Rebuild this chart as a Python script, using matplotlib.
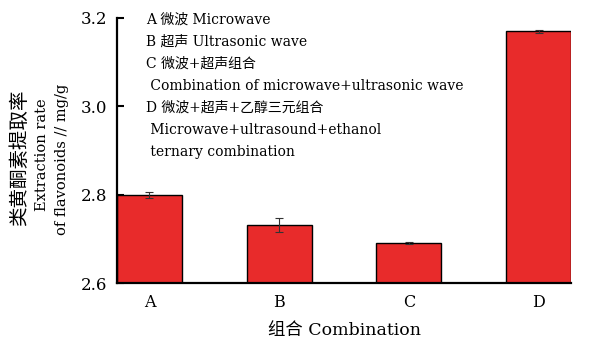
import matplotlib
matplotlib.use("Agg")
import matplotlib.pyplot as plt

plt.rcParams['font.family'] = ['DejaVu Serif', 'Noto Sans CJK SC']

groups = ["A", "B", "C", "D"]
rate = [2.800, 2.731, 2.691, 3.170]
rate_err = [0.007, 0.016, 0.002, 0.003]

legend_lines = [
    "A 微波 Microwave",
    "B 超声 Ultrasonic wave",
    "C 微波+超声组合",
    " Combination of microwave+ultrasonic wave",
    "D 微波+超声+乙醇三元组合",
    " Microwave+ultrasound+ethanol",
    " ternary combination",
]

W, H = 606, 341
fig = plt.figure(figsize=(W / 100, H / 100), dpi=100)
ax = fig.add_axes([117 / W, 1 - 283 / H, 454 / W, 265 / H])

x = range(len(groups))
ax.bar(x, [r - 2.6 for r in rate], bottom=2.6, width=0.5, color="#E82B2B",
       edgecolor="black", linewidth=1.0, zorder=2)
ax.errorbar(x, rate, yerr=rate_err, fmt="none", ecolor="#333333",
            elinewidth=0.8, capsize=3, capthick=0.8, zorder=3)

ax.set_xlim(-0.25, 3.25)
ax.set_ylim(2.6, 3.2)
ax.set_yticks([2.6, 2.8, 3.0, 3.2])
ax.set_yticklabels(["2.6", "2.8", "3.0", "3.2"])
ax.set_xticks(list(x))
ax.set_xticklabels(groups)
ax.tick_params(axis="y", direction="in", length=5, width=1.5, labelsize=12, pad=7)
ax.tick_params(axis="x", length=0, labelsize=11.5, pad=8)

ax.spines["top"].set_visible(False)
ax.spines["right"].set_visible(False)
ax.spines["left"].set_linewidth(1.6)
ax.spines["bottom"].set_linewidth(1.6)

# y label: Chinese line larger, English lines below it
fig.text(20 / W, 1 - 158 / H, "类黄酮素提取率", rotation=90, fontsize=14,
         ha="center", va="center")
fig.text(42 / W, 1 - 155 / H, "Extraction rate", rotation=90, fontsize=10.5,
         ha="center", va="center")
fig.text(62 / W, 1 - 159 / H, "of flavonoids // mg/g", rotation=90, fontsize=10.5,
         ha="center", va="center")

fig.text(344 / W, 1 - 330 / H, "组合 Combination", fontsize=12.5,
         ha="center", va="center")

for i, line in enumerate(legend_lines):
    fig.text(146 / W, 1 - (20 + i * 22) / H, line, fontsize=10,
             va="center", ha="left")

fig.savefig("out.png", dpi=100)
